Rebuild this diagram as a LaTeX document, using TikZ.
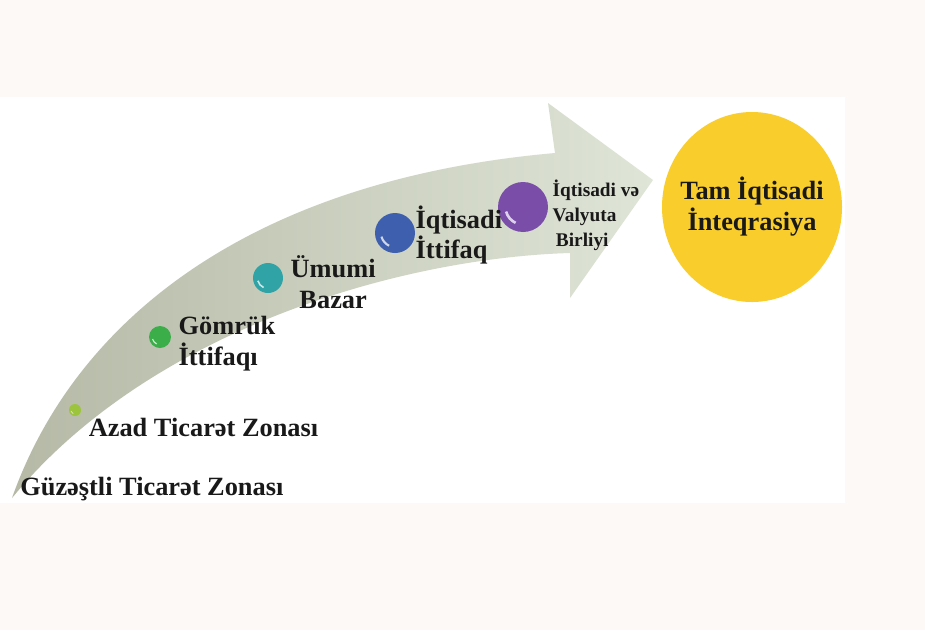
\documentclass[tikz,border=0pt]{standalone}
\usepackage{fontspec}
\setmainfont{Liberation Serif}
\usetikzlibrary{positioning,shapes.geometric}
\definecolor{paper}{HTML}{FCF9F6}
\definecolor{shaftdark}{HTML}{B5B9A6}
\definecolor{shaftlight}{HTML}{DFE5D7}
\definecolor{goalyellow}{HTML}{F8CD2C}
\definecolor{ballA}{HTML}{9CC43C}
\definecolor{ballB}{HTML}{3BAE4A}
\definecolor{ballC}{HTML}{30A3A6}
\definecolor{ballD}{HTML}{3D5FAE}
\definecolor{ballE}{HTML}{7A4EA8}

\begin{document}
\begin{tikzpicture}[x=0.02cm, y=-0.02cm,
    stage/.style={font=\bfseries\fontsize{15}{17.6}\selectfont, text=black!90, inner sep=0pt, align=left},
    small stage/.style={stage, font=\bfseries\fontsize{11}{14.2}\selectfont},
    ball/.style={circle, inner sep=0pt},
    goal/.style={inner sep=0pt, font=\bfseries\fontsize{15}{17.6}\selectfont, text=black!90, align=center}]
  \useasboundingbox (0,0) rectangle (925,630);
  \fill[paper] (0,0) rectangle (925,630);
  \fill[white] (0,97) rectangle (845,503);
  % curved arrow
  \shade[left color=shaftdark, right color=shaftlight]
    (12,498) .. controls (75,320) and (250,180) .. (555,153) -- (548,103) -- (653,180)
    -- (570,298) -- (570,253) .. controls (400,258) and (150,330) .. (12,498) -- cycle;
  % stage balls
  \foreach \n/\x/\y/\r/\c in {azad/75/410/6/ballA, gomruk/160/337/11/ballB, bazar/268/278/15/ballC,
      ittifaq/395/233/20/ballD, birlik/523/207/25/ballE} {
    \pgfmathsetmacro\d{0.04*\r}
    \pgfmathsetmacro\hr{0.014*\r}
    \pgfmathsetmacro\lw{0.06*\r}
    \node[ball, fill=\c, minimum size=\d cm] (\n) at (\x,\y) {};
    \draw[white, opacity=.75, line width=\lw pt] (\n.center) ++(195:\hr cm) arc[start angle=195, end angle=245, radius=\hr cm];
  }
  % labels
  \node[stage, anchor=west] (guzestli) at (20,489) {Güzəştli Ticarət Zonası};
  \node[stage, below right=0.06cm and 0.18cm of azad] (azadtext) {Azad Ticarət Zonası};
  \node[stage, right=0.14cm of gomruk, yshift=-0.14cm] (gomruktext) {Gömrük\\İttifaqı};
  \node[stage, align=center, right=0.14cm of bazar, yshift=-0.08cm] (bazartext) {Ümumi\\Bazar};
  \node[stage, right=0pt of ittifaq, yshift=-0.04cm] (ittifaqtext) {İqtisadi\\İttifaq};
  \node[small stage, right=0.08cm of birlik, yshift=-0.16cm] (birliktext) {İqtisadi və\\Valyuta\\\,Birliyi};
  % goal
  \fill[goalyellow] (752,207) ellipse[x radius=90, y radius=95];
  \node[goal] (tam) at (752,207) {Tam İqtisadi\\İnteqrasiya};
\end{tikzpicture}
\end{document}
